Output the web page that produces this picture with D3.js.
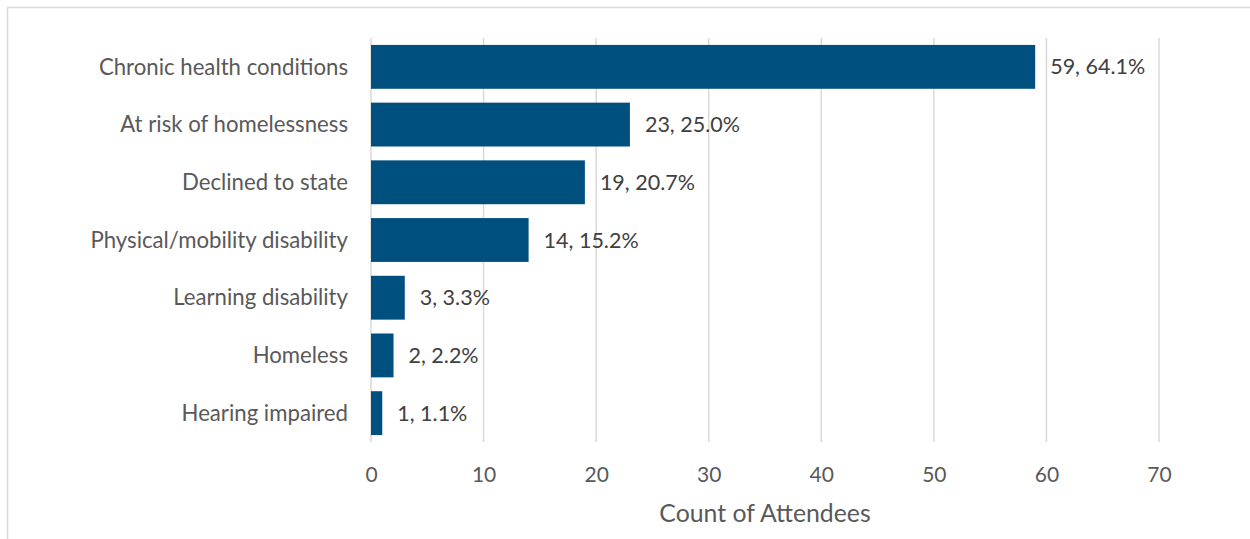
<!DOCTYPE html>
<html>
<head>
<meta charset="utf-8">
<script src="https://cdn.jsdelivr.net/npm/d3@7"></script>
<style>
  body { margin: 0; background: #fff; }
  svg text { font-family: Lato, "Open Sans", sans-serif; }
</style>
</head>
<body>
<svg id="chart" width="1250" height="539"></svg>
<script>
const categories = [
  "Chronic health conditions",
  "At risk of homelessness",
  "Declined to state",
  "Physical/mobility disability",
  "Learning disability",
  "Homeless",
  "Hearing impaired"
];
const counts = [59, 23, 19, 14, 3, 2, 1];
const percents = ["64.1%", "25.0%", "20.7%", "15.2%", "3.3%", "2.2%", "1.1%"];
const xTicks = [0, 10, 20, 30, 40, 50, 60, 70];
const xTitle = "Count of Attendees";

const rows = categories.map((c, i) => ({ name: c, count: counts[i], pct: percents[i] }));

const wSvg = 1250;
const hSvg = 539;
const plotLeft = 371;
const plotRight = 1159;
const plotTop = 38;
const plotBottom = 442;

const svg = d3.select("#chart");

svg.append("rect")
  .attr("x", 7.5)
  .attr("y", 7.5)
  .attr("width", wSvg)
  .attr("height", hSvg)
  .attr("fill", "#fff")
  .attr("stroke", "#d9d9d9")
  .attr("stroke-width", 1.5);

const xScale = d3.scaleLinear([0, 70], [plotLeft, plotRight]);
const yScale = d3.scaleBand(categories, [plotTop, plotBottom])
  .paddingInner(0.24)
  .paddingOuter(0.12);

// gridlines
svg.append("g")
  .selectAll("line")
  .data(xTicks)
  .enter()
  .append("line")
  .attr("x1", d => xScale(d))
  .attr("x2", d => xScale(d))
  .attr("y1", plotTop)
  .attr("y2", plotBottom)
  .attr("stroke", "#d9d9d9")
  .attr("stroke-width", 1.5);

const xAxis = d3.axisBottom(xScale)
  .tickValues(xTicks)
  .tickSize(0)
  .tickPadding(0);

const gx = svg.append("g")
  .attr("transform", `translate(0, ${plotBottom})`)
  .call(xAxis);
gx.select(".domain").remove();
gx.selectAll("text")
  .attr("y", 40)
  .attr("dy", 0)
  .attr("fill", "#595959")
  .attr("font-size", "21px");

const yAxis = d3.axisLeft(yScale).tickSize(0).tickPadding(23);
const gy = svg.append("g")
  .attr("transform", `translate(${plotLeft}, 0)`)
  .call(yAxis);
gy.select(".domain").remove();
gy.selectAll("text")
  .attr("dy", "0.35em")
  .attr("fill", "#595959")
  .attr("font-size", "22.2px");

svg.selectAll(".bar")
  .data(rows)
  .enter()
  .append("rect")
  .attr("class", "bar")
  .attr("x", xScale(0))
  .attr("y", d => yScale(d.name))
  .attr("width", d => xScale(d.count) - xScale(0))
  .attr("height", yScale.bandwidth())
  .attr("fill", "#00507f");

svg.selectAll(".label")
  .data(rows)
  .enter()
  .append("text")
  .attr("class", "label")
  .attr("x", d => xScale(d.count) + 15)
  .attr("y", d => yScale(d.name) + yScale.bandwidth() / 2)
  .attr("dy", "0.35em")
  .attr("fill", "#404040")
  .attr("font-size", "21.5px")
  .text(d => `${d.count}, ${d.pct}`);

svg.append("text")
  .attr("x", (plotLeft + plotRight) / 2)
  .attr("y", 522)
  .attr("text-anchor", "middle")
  .attr("fill", "#595959")
  .attr("font-size", "24.8px")
  .text(xTitle);
</script>
</body>
</html>
